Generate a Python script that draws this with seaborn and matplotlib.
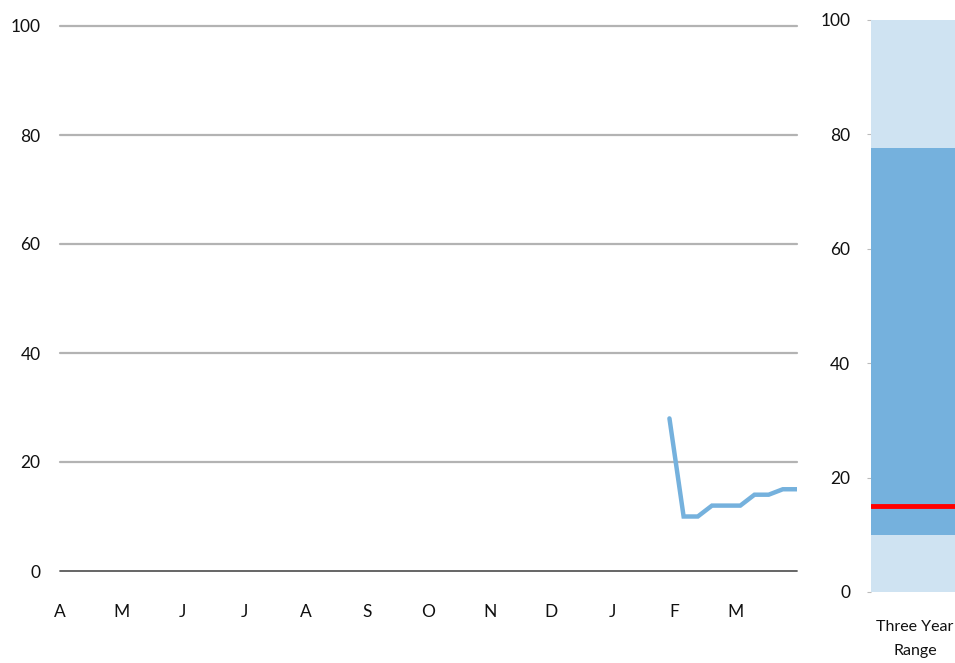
import matplotlib
matplotlib.use("Agg")
import matplotlib.pyplot as plt
import seaborn as sns
import pandas as pd
import numpy as np

sns.set_theme(style="white")
plt.rcParams['font.family'] = ['Lato', 'DejaVu Sans']

# ---- data ----
months = ["A", "M", "J", "J", "A", "S", "O", "N", "D", "J", "F", "M"]
week_index = [43, 44, 45, 46, 47, 48, 49, 50, 51, 52]
week_values = [28, 10, 10, 12, 12, 12, 14, 14, 15, 15]
range_category = ["Three Year\nRange"]
range_full = [100]
range_high = [77.6]
range_low = [10]
current_value = 15

LINE_BLUE = "#75B1DD"
LIGHT_BLUE = "#CFE3F2"

W, H = 955, 663
fig = plt.figure(figsize=(W / 100, H / 100), dpi=100)

# ---- left line chart ----
axL = fig.add_axes([60 / W, (H - 571) / H, 737 / W, 545 / H])
df = pd.DataFrame({"week": week_index, "value": week_values})
for y in [20, 40, 60, 80, 100]:
    axL.axhline(y, color="#B3B3B3", lw=1.6, zorder=0, clip_on=False)
axL.axhline(0, color="#595959", lw=1.3, zorder=1, clip_on=False)
sns.lineplot(data=df, x="week", y="value", ax=axL, color=LINE_BLUE, lw=3.2,
             solid_joinstyle="miter", zorder=3)
axL.set_xlim(0, 52)
axL.set_ylim(0, 100)
axL.set_xticks([k * 52 / 12 for k in range(12)])
axL.set_xticklabels(months)
axL.set_yticks([0, 20, 40, 60, 80, 100])
axL.set_yticklabels(["0", "20", "40", "60", "80", "100"])
axL.set_xlabel("")
axL.set_ylabel("")
for s in axL.spines.values():
    s.set_visible(False)
axL.tick_params(axis="y", length=0, pad=14, labelsize=12.5, colors="#111111")
axL.tick_params(axis="x", length=0, pad=24, labelsize=12.5, colors="#111111")
axL.set_facecolor("none")

# ---- right range bar ----
axR = fig.add_axes([871 / W, (H - 592) / H, 88 / W, 572 / H])
rdf = pd.DataFrame({"cat": range_category, "full": range_full,
                    "high": range_high, "low": range_low})
sns.barplot(data=rdf, x="cat", y="full", ax=axR, color=LIGHT_BLUE, width=1.0,
            saturation=1, edgecolor="none")
sns.barplot(data=rdf, x="cat", y="high", ax=axR, color=LINE_BLUE, width=1.0,
            saturation=1, edgecolor="none")
sns.barplot(data=rdf, x="cat", y="low", ax=axR, color=LIGHT_BLUE, width=1.0,
            saturation=1, edgecolor="none")
axR.axhline(current_value, color="#FF0000", lw=3.5, zorder=5)
axR.set_xlim(-0.5, 0.5)
axR.set_ylim(0, 100)
axR.set_yticks([0, 20, 40, 60, 80, 100])
axR.set_yticklabels(["0", "20", "40", "60", "80", "100"])
axR.set_xlabel("")
axR.set_ylabel("")
for s in axR.spines.values():
    s.set_visible(False)
axR.tick_params(axis="y", left=True, length=3, width=0.8, color="#BBBBBB",
                pad=12, labelsize=12.5, labelcolor="#111111")
axR.tick_params(axis="x", length=0, pad=20, labelsize=11.5)
for t in axR.get_xticklabels():
    t.set_color("#111111")
    t.set_linespacing(1.95)

fig.savefig("out.png", dpi=100)
